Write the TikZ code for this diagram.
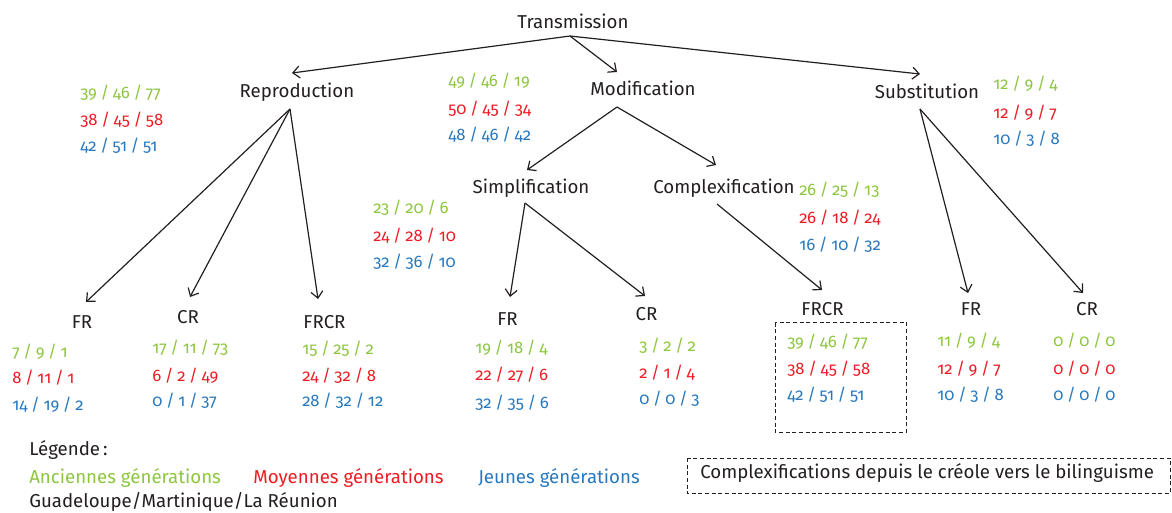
\documentclass[tikz,border=0pt]{standalone}
\usepackage{fontspec}
\setmainfont{Fira Sans}[Numbers=OldStyle]
\usetikzlibrary{arrows.meta}
\definecolor{ink}{RGB}{35,31,32}
\definecolor{gA}{RGB}{141,198,63}
\definecolor{gM}{RGB}{237,28,36}
\definecolor{gJ}{RGB}{40,120,190}
\newcommand\myNumFont{\fontsize{12.5}{14}\selectfont\spaceskip=0.22em plus 0.05em minus 0.05em\relax}
\tikzset{
  lbl/.style={anchor=base, inner sep=0pt, text=ink, font=\fontsize{14}{16}\selectfont},
  num/.style={anchor=base west, inner sep=0pt, font=\myNumFont},
  numA/.style={num, text=gA},
  numM/.style={num, text=gM},
  numJ/.style={num, text=gJ},
  leg/.style={anchor=base west, inner sep=0pt, font=\fontsize{14}{16}\selectfont},
  arr/.style={draw=ink, line width=0.9pt, -{Straight Barb[length=5pt,width=9pt]}},
  dashbox/.style={draw=ink, line width=0.7pt, dash pattern=on 3pt off 2pt}
}
\begin{document}
\begin{tikzpicture}[x=0.75pt, y=-0.75pt]
\useasboundingbox (0,0) rectangle (1172,512);
% labels
\node[lbl] (trans) at (573,28) {Transmission};
\node[lbl] (repro) at (297,97) {Reproduction};
\node[lbl] (modif) at (643,95) {Modification};
\node[lbl] (subst) at (927,98) {Substitution};
\node[lbl] (simp) at (531,193) {Simplification};
\node[lbl] (compl) at (724,193) {Complexification};
\node[lbl] (fr1) at (82,328) {FR};
\node[lbl] (cr1) at (188,323) {CR};
\node[lbl] (frcr1) at (324.5,328) {FRCR};
\node[lbl] (fr2) at (507.5,325) {FR};
\node[lbl] (cr2) at (646.5,320.5) {CR};
\node[lbl] (frcr2) at (822.5,315) {FRCR};
\node[lbl] (fr3) at (971,315) {FR};
\node[lbl] (cr3) at (1087,315) {CR};
% connectors
\draw[arr] ([shift={(-3,8)}]trans.base) -- ([shift={(-5,-24)}]repro.base);
\draw[arr] ([shift={(-3,8)}]trans.base) -- ([shift={(-26,-23)}]modif.base);
\draw[arr] ([shift={(-3,8)}]trans.base) -- ([shift={(-7,-24)}]subst.base);
\draw[arr] ([shift={(-7,12)}]repro.base) -- ([shift={(4,-26)}]fr1.base);
\draw[arr] ([shift={(-7,12)}]repro.base) -- ([shift={(2,-26)}]cr1.base);
\draw[arr] ([shift={(-7,12)}]repro.base) -- ([shift={(-6.5,-29)}]frcr1.base);
\draw[arr] ([shift={(-26,12)}]modif.base) -- ([shift={(-4,-23)}]simp.base);
\draw[arr] ([shift={(-26,12)}]modif.base) -- ([shift={(-8,-28)}]compl.base);
\draw[arr] ([shift={(-6,10)}]simp.base) -- ([shift={(2.5,-28)}]fr2.base);
\draw[arr] ([shift={(-6,10)}]simp.base) -- ([shift={(-1.5,-24.5)}]cr2.base);
\draw[arr] ([shift={(-7,11)}]compl.base) -- ([shift={(-0.5,-25)}]frcr2.base);
\draw[arr] ([shift={(-7,11)}]subst.base) -- ([shift={(-3,-22)}]fr3.base);
\draw[arr] ([shift={(-7,11)}]subst.base) -- ([shift={(-4,-22)}]cr3.base);
% numbers
\node[numA] (rA) at (80,98) {39 / 46 / 77};
\node[numM] (rM) at (80,125) {38 / 45 / 58};
\node[numJ] (rJ) at (80,151.5) {42 / 51 / 51};
\node[numA] (mA) at (448,86.5) {49 / 46 / 19};
\node[numM] (mM) at (448,114) {50 / 45 / 34};
\node[numJ] (mJ) at (448,140) {48 / 46 / 42};
\node[numA] (sA) at (993,89) {12 / 9 / 4};
\node[numM] (sM) at (993,118) {12 / 9 / 7};
\node[numJ] (sJ) at (993,144) {10 / 3 / 8};
\node[numA] (siA) at (373,213) {23 / 20 / 6};
\node[numM] (siM) at (373,241.5) {24 / 28 / 10};
\node[numJ] (siJ) at (373,267) {32 / 36 / 10};
\node[numA] (cA) at (799,195) {26 / 25 / 13};
\node[numM] (cM) at (799,223) {26 / 18 / 24};
\node[numJ] (cJ) at (799,250) {16 / 10 / 32};
\node[numA] (f1A) at (12,357) {7 / 9 / 1};
\node[numM] (f1M) at (12,383) {8 / 11 / 1};
\node[numJ] (f1J) at (12,410) {14 / 19 / 2};
\node[numA] (c1A) at (152,353) {17 / 11 / 73};
\node[numM] (c1M) at (152,381.5) {6 / 2 / 49};
\node[numJ] (c1J) at (152,406) {0 / 1 / 37};
\node[numA] (b1A) at (302,354) {15 / 25 / 2};
\node[numM] (b1M) at (302,381.5) {24 / 32 / 8};
\node[numJ] (b1J) at (302,406.5) {28 / 32 / 12};
\node[numA] (f2A) at (475,353) {19 / 18 / 4};
\node[numM] (f2M) at (475,380.5) {22 / 27 / 6};
\node[numJ] (f2J) at (475,408) {32 / 35 / 6};
\node[numA] (c2A) at (639,351.5) {3 / 2 / 2};
\node[numM] (c2M) at (639,378.5) {2 / 1 / 4};
\node[numJ] (c2J) at (639,404.5) {0 / 0 / 3};
\node[numA] (b2A) at (787,347) {39 / 46 / 77};
\node[numM] (b2M) at (787,374) {38 / 45 / 58};
\node[numJ] (b2J) at (787,400) {42 / 51 / 51};
\node[numA] (f3A) at (937,346) {11 / 9 / 4};
\node[numM] (f3M) at (937,374) {12 / 9 / 7};
\node[numJ] (f3J) at (937,400) {10 / 3 / 8};
\node[numA] (c3A) at (1053,346) {0 / 0 / 0};
\node[numM] (c3M) at (1053,374) {0 / 0 / 0};
\node[numJ] (c3J) at (1053,400) {0 / 0 / 0};
% dashed box around FRCR complexification figures
\draw[dashbox] (775,322.5) rectangle (906.5,432);
% legend
\node[leg, text=ink] (legT) at (29,455) {Légende\,:};
\node[leg, text=gA] (legA) at (29,483) {Anciennes générations};
\node[leg, text=gM] (legM) at (253,483) {Moyennes générations};
\node[leg, text=gJ] (legJ) at (478,483) {Jeunes générations};
\node[leg, text=ink] (legG) at (29,507) {Guadeloupe/Martinique/La Réunion};
\draw[dashbox] (687,458) rectangle (1170,493.5);
\node[leg, text=ink] (legB) at (700,478) {Complexifications depuis le créole vers le bilinguisme};
\end{tikzpicture}
\end{document}
